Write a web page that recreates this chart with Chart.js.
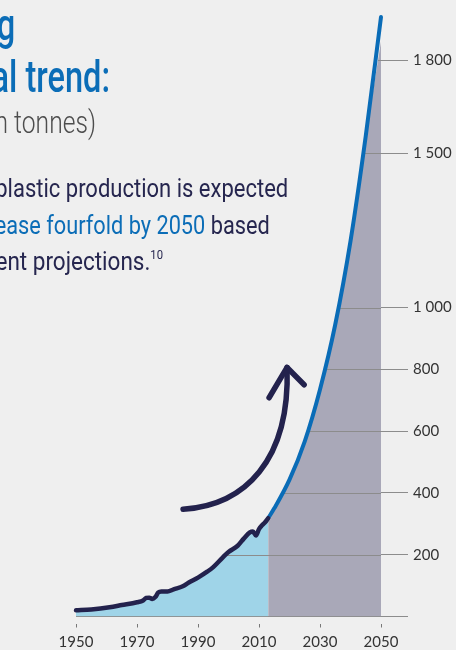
<!DOCTYPE html>
<html><head><meta charset="utf-8">
<script src="https://cdn.jsdelivr.net/npm/chart.js@4.4.1/dist/chart.umd.min.js"></script>
<style>
html,body{margin:0;padding:0;background:#efefef;}
#wrap{position:relative;width:456px;height:650px;overflow:hidden;background:#efefef;}
#wrap canvas{position:absolute;left:0;top:0;}
.t{position:absolute;white-space:nowrap;transform-origin:100% 50%;font-family:Roboto,sans-serif;line-height:1;}
.t sup{font-size:50%;vertical-align:0;position:relative;top:-0.9em;}
</style></head><body>
<div id="wrap">
<canvas id="c" width="456" height="650"></canvas>
<div class="t" style="right:441px;top:3px;font-size:44px;font-weight:500;color:#0b6db7;transform:scaleX(0.74)">A growing</div>
<div class="t" style="right:346px;top:55px;font-size:44px;font-weight:500;color:#0b6db7;transform:scaleX(0.74)">global trend:</div>
<div class="t" style="right:360px;top:106px;font-size:32px;font-weight:300;color:#4d4d4d;transform:scaleX(0.77)">(million tonnes)</div>
<div class="t" style="right:168px;top:176px;font-size:25px;font-weight:400;color:#26264f;transform:scaleX(0.88)">Global plastic production is expected</div>
<div class="t" style="right:186px;top:213px;font-size:25px;font-weight:400;color:#26264f;transform:scaleX(0.87)"><span style="color:#0b6db7">to increase fourfold by 2050</span> based</div>
<div class="t" style="right:293px;top:249px;font-size:25px;font-weight:400;color:#26264f;transform:scaleX(0.9)">on current projections.<sup>10</sup></div>
</div>
<script>
// ---- data (million tonnes) ----
const histYears  = [1950,1955,1961,1965,1970,1972,1973,1974,1975,1976,1977,1978,1980,1982,1985,1987,1990,1993,1995,1998,2000,2003,2005,2007,2008,2009,2010,2011,2012,2013];
const histValues = [  20,  23,  30,  37,  46,  52,  60,  61,  57,  63,  78,  81,  81,  88,  98, 110, 126, 145, 160, 190, 209, 229, 252, 272, 275, 262, 283, 295, 305, 318];
const projYears  = [2013,2015,2020,2025,2030,2035,2040,2045,2050];
const projValues = [ 318, 350, 443, 567, 735, 945,1215,1555,1940];
const projFillValues = [318,350,443,567,735,945,1215,1550,1860];
const xTickLabels = ['1950','1970','1990','2010','2030','2050'];
const yTickValues = [0,200,400,600,800,1000,1500,1800];
const yTickLabels = ['','200','400','600','800','1 000','1 500','1 800'];
// arrow annotation, in data coordinates (year, value)
const arrowStart = [1985.1,347], arrowC1 = [2005.4,360], arrowC2 = [2020.2,505], arrowTip = [2019.2,806];
const arrowWingL = [2013.3,708], arrowWingR = [2024.8,750];

const pts = (xs, ys) => xs.map((x,i)=>({x:x, y:ys[i]}));

const leaders = {
  id:'leaders',
  beforeDraw(chart){ chart.$leadersDone = false; },
  beforeDatasetDraw(chart, args){
    const ds = chart.data.datasets[args.index];
    if(!ds.isLine || chart.$leadersDone) return;
    chart.$leadersDone = true;
    const ctx = chart.ctx, xs = chart.scales.x, ys = chart.scales.y, ca = chart.chartArea;
    const curve = pts(histYears,histValues).concat(pts(projYears,projFillValues));
    ctx.save();
    ctx.strokeStyle = '#8c8c8c'; ctx.lineWidth = 1;
    yTickValues.forEach(v=>{
      if(v===0) return;
      for(let i=0;i<curve.length-1;i++){
        const a=curve[i], b=curve[i+1];
        if(a.y<v && b.y>=v){
          const yr = a.x + (v-a.y)/(b.y-a.y)*(b.x-a.x);
          const px = xs.getPixelForValue(yr), py = Math.round(ys.getPixelForValue(v))+0.5;
          ctx.beginPath(); ctx.moveTo(px,py); ctx.lineTo(ca.right,py); ctx.stroke();
          break;
        }
      }
    });
    ctx.restore();
  }
};

const arrow = {
  id:'arrow',
  afterDatasetsDraw(chart){
    const ctx = chart.ctx, xs = chart.scales.x, ys = chart.scales.y;
    const P = p => [xs.getPixelForValue(p[0]), ys.getPixelForValue(p[1])];
    const s=P(arrowStart), c1=P(arrowC1), c2=P(arrowC2), t=P(arrowTip), wl=P(arrowWingL), wr=P(arrowWingR);
    ctx.save();
    ctx.strokeStyle='#23224d'; ctx.lineWidth=5.5; ctx.lineCap='round'; ctx.lineJoin='round';
    ctx.beginPath(); ctx.moveTo(s[0],s[1]); ctx.bezierCurveTo(c1[0],c1[1],c2[0],c2[1],t[0],t[1]); ctx.stroke();
    ctx.beginPath(); ctx.moveTo(wl[0],wl[1]); ctx.lineTo(t[0],t[1]); ctx.lineTo(wr[0],wr[1]); ctx.stroke();
    ctx.restore();
  }
};

const tickFont = {family:'Lato', size:15};
new Chart(document.getElementById('c'), {
  type:'line',
  data:{ datasets:[
    {data:pts(histYears,histValues), fill:'origin', backgroundColor:'#9fd4e8', borderWidth:0, pointRadius:0, order:2, cubicInterpolationMode:'monotone'},
    {data:pts(projYears,projFillValues), fill:'origin', backgroundColor:'#a9a8b8', borderWidth:0, pointRadius:0, order:2, cubicInterpolationMode:'monotone'},
    {isLine:true, data:pts(histYears,histValues), fill:false, borderColor:'#23224d', borderWidth:4.5, pointRadius:0, order:1, cubicInterpolationMode:'monotone', borderCapStyle:'round', borderJoinStyle:'round', clip:false},
    {isLine:true, data:pts(projYears,projValues), fill:false, borderColor:'#0a6cb7', borderWidth:4, pointRadius:0, order:1, cubicInterpolationMode:'monotone', borderCapStyle:'round', borderJoinStyle:'round', clip:false}
  ]},
  options:{
    responsive:false, animation:false, devicePixelRatio:1,
    layout:{padding:{left:76, right:0, top:11, bottom:0}},
    plugins:{legend:{display:false}, tooltip:{enabled:false}},
    scales:{
      x:{type:'linear', min:1950, max:2050,
        afterBuildTicks:s=>{ s.ticks = xTickLabels.map(l=>({value:Number(l)})); },
        afterFit:s=>{ s.height = 33.5; },
        ticks:{autoSkip:false, maxRotation:0, padding:6, color:'#333', font:tickFont, callback:(v,i)=>xTickLabels[i]},
        grid:{drawOnChartArea:false, drawTicks:true, tickLength:11, tickColor:'#777', tickWidth:1, tickBorderDash:[4,7], tickBorderDashOffset:4},
        border:{display:true, color:'#8c8c8c', width:1}
      },
      y:{type:'linear', position:'right', min:0, max:1950,
        afterBuildTicks:s=>{ s.ticks = yTickValues.map(v=>({value:v})); },
        afterFit:s=>{ s.width = 75; },
        ticks:{autoSkip:false, padding:5, color:'#333', font:tickFont, callback:(v,i)=>yTickLabels[i]},
        grid:{drawOnChartArea:false, drawTicks:true, tickLength:27, tickColor:'#8c8c8c', tickWidth:1},
        border:{display:false}
      }
    }
  },
  plugins:[leaders, arrow]
});
</script>
</body></html>
